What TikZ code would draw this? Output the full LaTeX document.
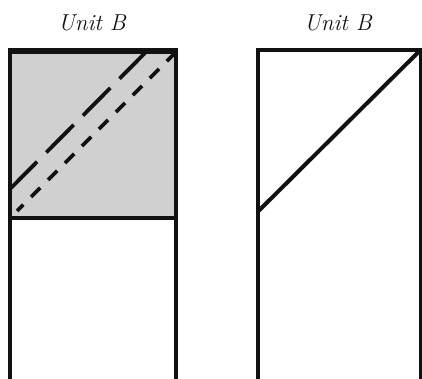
\documentclass[tikz,border=0pt]{standalone}
\usepackage{fontspec}
\definecolor{blockgray}{RGB}{208,208,208}
\definecolor{ink}{RGB}{17,17,17}
\tikzset{
  side/.style={draw=ink, line width=4pt},
  topedge/.style={draw=ink, line width=6pt},
  longdash/.style={draw=ink, line width=3.8pt, dash pattern=on 39pt off 13pt},
  shortdash/.style={draw=ink, line width=3.8pt, dash pattern=on 13pt off 11pt},
  seam/.style={draw=ink, line width=4pt},
  unitlabel/.style={font=\fontsize{23}{27}\selectfont\itshape, text=ink, inner sep=0pt}
}
\begin{document}
\begin{tikzpicture}[x=1pt,y=1pt]
\useasboundingbox (0,0) rectangle (422,379);
% left block
\coordinate (LBL) at (10,-5);
\coordinate (LBR) at (176,-5);
\coordinate (LTL) at (10,328);
\coordinate (LTR) at (176,328);
\coordinate (LML) at (10,161);
\coordinate (LMR) at (176,161);
\fill[blockgray] (LML) rectangle (LTR);
\fill[white] (LBL) rectangle (LMR);
\draw[side] (LBL) -- (LTL);
\draw[side] (LBR) -- (LTR);
\draw[side] (LML) -- (LMR);
\draw[topedge] ([xshift=-2pt]LTL) -- ([xshift=2pt]LTR);
\coordinate (LDa) at (10,190);
\coordinate (LDb) at (147,328);
\coordinate (SDa) at (17,168);
\coordinate (SDb) at (176,327);
\draw[longdash] (LDb) -- (LDa);
\draw[shortdash] (SDb) -- (SDa);
\node[unitlabel] (lab1) at (92,356) {Unit B};
% right block
\coordinate (RBL) at (257.5,-5);
\coordinate (RBR) at (420.5,-5);
\coordinate (RTL) at (257.5,329);
\coordinate (RTR) at (420.5,329);
\coordinate (RDa) at (257.5,167);
\draw[side] (RBL) -- (RTL);
\draw[side] (RBR) -- (RTR);
\draw[side] ([xshift=-2pt]RTL) -- ([xshift=2pt]RTR);
\draw[seam] (RDa) -- (RTR);
\node[unitlabel] (lab2) at (338,356) {Unit B};
\end{tikzpicture}
\end{document}
